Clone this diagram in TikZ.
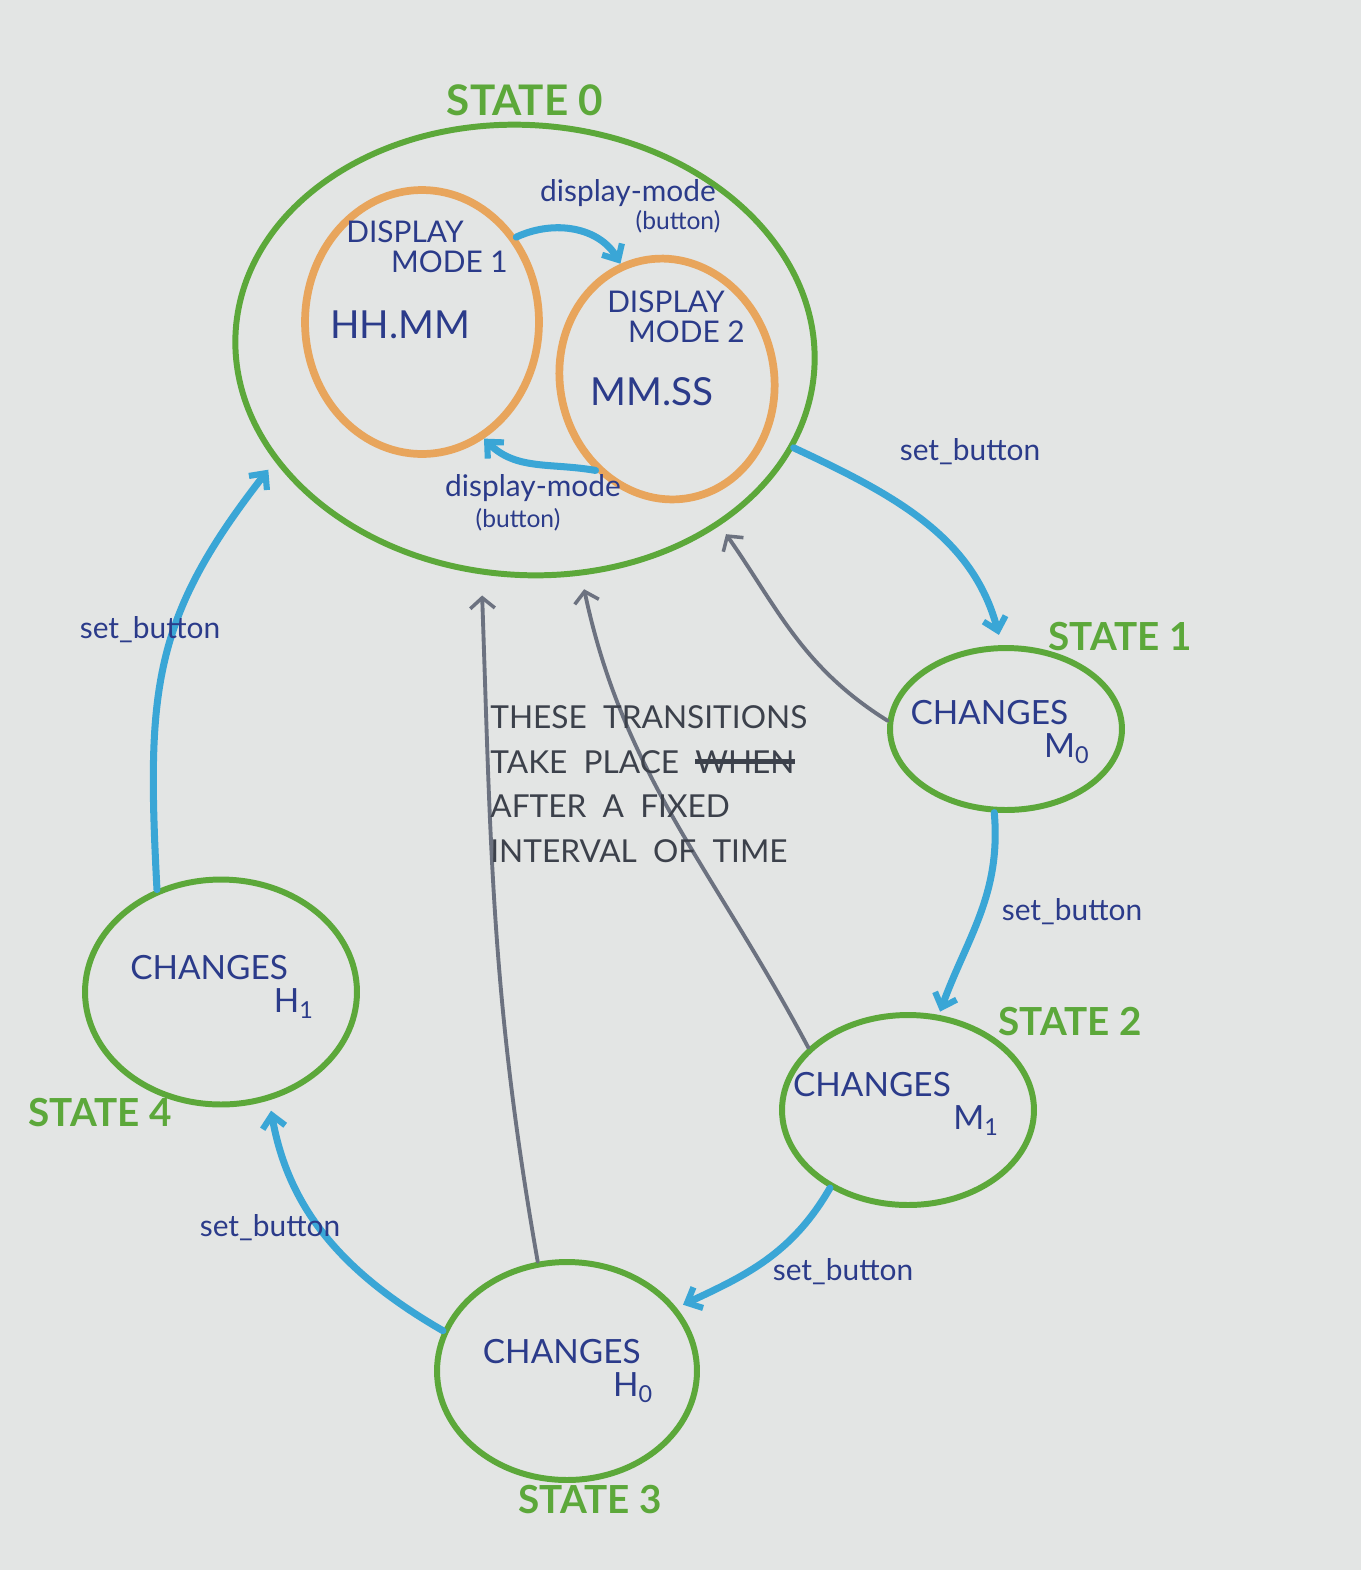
\documentclass[tikz,border=0pt]{standalone}
\usepackage{fontspec}
\setmainfont{Lato}
\usetikzlibrary{shapes.geometric,arrows.meta}
\definecolor{paper}{HTML}{E3E5E4}
\definecolor{sgreen}{HTML}{5CA83A}
\definecolor{sorange}{HTML}{E8A55C}
\definecolor{sblue}{HTML}{3AA6D6}
\definecolor{sgray}{HTML}{6C7280}
\definecolor{ink}{HTML}{2B3B8A}
\definecolor{pencil}{HTML}{3C414B}
\newcommand\mystrike[1]{\setbox0\hbox{#1}\rlap{\raisebox{0.3em}{\rule{\wd0}{2.4pt}}}\box0}
\tikzset{
  stateell/.style={draw=sgreen, line width=3.4pt, ellipse, inner sep=0pt},
  modeell/.style={draw=sorange, line width=4.4pt, ellipse, inner sep=0pt},
  statelbl/.style={text=sgreen, font=\fontsize{22}{22}\selectfont\bfseries},
  inktxt/.style={text=ink, font=\fontsize{19}{19}\selectfont, inner sep=1pt},
  smalltxt/.style={text=ink, font=\fontsize{17}{17}\selectfont, inner sep=1pt},
  tinytxt/.style={text=ink, font=\fontsize{14}{14}\selectfont, inner sep=1pt},
  bluearr/.style={draw=sblue, line width=4pt, line cap=round, -{Straight Barb[length=7pt,width=13pt,line width=3.5pt]}},
  grayarr/.style={draw=sgray, line width=2.2pt, line cap=round, -{Straight Barb[length=6pt,width=14pt,line width=2pt]}},
}
\begin{document}
\begin{tikzpicture}[x=0.02cm,y=0.02cm]
\fill[paper] (0,0) rectangle (1361,-1570);
\useasboundingbox (0,0) rectangle (1361,-1570);

% states
\node[stateell, minimum width=11.6cm, minimum height=9cm, rotate=-4] (s0) at (525,-350) {};
\node[modeell, minimum width=4.68cm, minimum height=5.28cm] (dm1) at (422,-322) {};
\node[modeell, minimum width=4.28cm, minimum height=4.84cm, rotate=12] (dm2) at (667,-379) {};
\node[stateell, minimum width=4.64cm, minimum height=3.24cm] (s1) at (1006,-729) {};
\node[stateell, minimum width=5.04cm, minimum height=3.8cm] (s2) at (908,-1110) {};
\node[stateell, minimum width=5.2cm, minimum height=4.36cm] (s3) at (567,-1371) {};
\node[stateell, minimum width=5.44cm, minimum height=4.5cm] (s4) at (221,-992) {};

% state labels
\node[statelbl, font=\fontsize{24}{24}\selectfont\bfseries] (l0) at (525,-100) {STATE 0};
\node[statelbl] (l1) at (1120,-637) {STATE 1};
\node[statelbl] (l2) at (1070,-1022) {STATE 2};
\node[statelbl] (l3) at (590,-1500) {STATE 3};
\node[statelbl] (l4) at (100,-1113) {STATE 4};

% inner texts
\node[smalltxt, align=left] (t1) at (427,-247) {DISPLAY\\\hspace*{1.5em}MODE 1};
\node[inktxt, font=\fontsize{22}{22}\selectfont] (t1b) at (400,-325) {HH.MM};
\node[smalltxt, align=left] (t2) at (676,-317) {DISPLAY\\\hspace*{0.7em}MODE 2};
\node[inktxt, font=\fontsize{22}{22}\selectfont] (t2b) at (652,-392) {MM.SS};

\node[inktxt, align=left] (c1) at (1000,-732) {CHANGES\\\hspace*{4em}M\textsubscript{0}};
\node[inktxt, align=left] (c2) at (896,-1104) {CHANGES\\\hspace*{4.8em}M\textsubscript{1}};
\node[inktxt, align=left] (c3) at (568,-1371) {CHANGES\\\hspace*{3.9em}H\textsubscript{0}};
\node[inktxt, align=left] (c4) at (222,-987) {CHANGES\\\hspace*{4.3em}H\textsubscript{1}};

% display mode arrows
\draw[bluearr] (dm1.42) to[out=25, in=120] (dm2.100);
\draw[bluearr] (dm2.-140) to[out=170, in=-45] (dm1.-62);
\node[smalltxt] (dl1) at (628,-193) {display-mode};
\node[tinytxt] (dl1b) at (678,-222) {(button)};
\node[smalltxt] (dl2) at (533,-488) {display-mode};
\node[tinytxt] (dl2b) at (518,-520) {(button)};

% set_button cycle
\draw[bluearr, shorten >=6pt] (s0.-16) to[out=-25, in=105] (s1.93);
\draw[bluearr, shorten >=2pt] (s1.-98) to[out=-85, in=70] (s2.72);
\draw[bluearr, shorten >=4pt] (s2.-135) to[out=-120, in=25] (s3.30);
\draw[bluearr, shorten >=6pt] (s3.162) to[out=150, in=-80] (s4.-66);
\draw[bluearr, shorten >=6pt] (s4.122) to[out=93, in=-128, looseness=1.15] (s0.-152);
\node[smalltxt] (b1) at (970,-452) {set\_button};
\node[smalltxt] (b2) at (1072,-912) {set\_button};
\node[smalltxt] (b3) at (843,-1272) {set\_button};
\node[smalltxt] (b4) at (270,-1228) {set\_button};
\node[smalltxt] (b5) at (150,-630) {set\_button};

% timed transitions
\draw[grayarr, shorten >=6pt] (s1.176) to[out=148, in=-55] (s0.-38);
\draw[grayarr, shorten >=8pt] (s2.148) to[out=118, in=-78] (s0.-72);
\draw[grayarr, shorten >=12pt] (s3.105) to[out=100, in=-88] (s0.-97);

\node[text=pencil, font=\fontsize{18}{25.5}\selectfont, align=left, anchor=north west, inner sep=0pt] (note) at (490,-705)
  {THESE \ TRANSITIONS\\TAKE \ PLACE \ \mystrike{WHEN}\\AFTER \ A \ FIXED\\INTERVAL \ OF \ TIME};
\end{tikzpicture}
\end{document}
